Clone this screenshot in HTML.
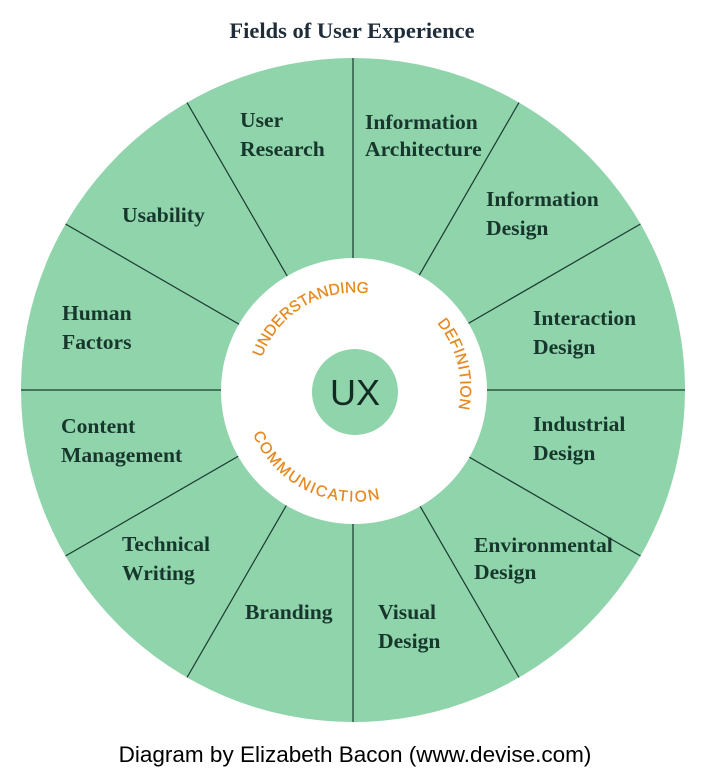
<!DOCTYPE html>
<html><head><meta charset="utf-8"><style>
html,body{margin:0;padding:0;background:#fff;width:704px;height:775px;overflow:hidden}
svg{display:block}
.l{font-family:"Liberation Serif",serif;font-weight:bold;font-size:21.6px;fill:#17372d}
.o{font-family:"Liberation Sans",sans-serif;font-size:15.5px;fill:#e5881e;letter-spacing:0.4px;stroke:#e5881e;stroke-width:0.3}
</style></head><body>
<svg width="704" height="775" viewBox="0 0 704 775" xmlns="http://www.w3.org/2000/svg">
<defs>
<path id="pu" d="M 261.9 357.5 A 98 98 0 0 1 380 296"/>
<path id="pd" d="M 437 323 A 102 102 0 0 1 454 424"/>
<path id="pc" d="M 253 434 A 110 110 0 0 0 420 480"/>
</defs>
<text x="352" y="38" text-anchor="middle" style="font-family:'Liberation Serif',serif;font-weight:bold;font-size:22.5px;fill:#1f2d3a">Fields of User Experience</text>
<circle cx="353" cy="390" r="332" fill="#8fd4aa"/>
<g stroke="#1a3a30" stroke-width="1.2">
<line x1="353" y1="58" x2="353" y2="722"/>
<line x1="21" y1="390" x2="685" y2="390"/>
<line x1="187" y1="102.5" x2="519" y2="677.5"/>
<line x1="519" y1="102.5" x2="187" y2="677.5"/>
<line x1="65.5" y1="224" x2="640.5" y2="556"/>
<line x1="640.5" y1="224" x2="65.5" y2="556"/>
</g>
<circle cx="354" cy="391" r="133" fill="#fff"/>
<circle cx="355" cy="392" r="43" fill="#8fd4aa"/>
<text x="355" y="405" text-anchor="middle" style="font-family:'Liberation Sans',sans-serif;font-size:36px;fill:#142a24">UX</text>
<text class="o" style="letter-spacing:0"><textPath href="#pu">UNDERSTANDING</textPath></text>
<text class="o"><textPath href="#pd">DEFINITION</textPath></text>
<text class="o" style="letter-spacing:1.8px"><textPath href="#pc">COMMUNICATION</textPath></text>
<g class="l">
<text x="240" y="127">User</text><text x="240" y="156">Research</text>
<text x="365" y="129">Information</text><text x="365" y="156">Architecture</text>
<text x="122" y="222">Usability</text>
<text x="486" y="206">Information</text><text x="486" y="235">Design</text>
<text x="62" y="320">Human</text><text x="62" y="349">Factors</text>
<text x="533" y="325">Interaction</text><text x="533" y="354">Design</text>
<text x="61" y="433">Content</text><text x="61" y="462">Management</text>
<text x="533" y="431">Industrial</text><text x="533" y="460">Design</text>
<text x="122" y="551">Technical</text><text x="122" y="580">Writing</text>
<text x="474" y="552">Environmental</text><text x="474" y="579">Design</text>
<text x="245" y="619">Branding</text>
<text x="378" y="619">Visual</text><text x="378" y="648">Design</text>
</g>
<text x="355" y="762" text-anchor="middle" style="font-family:'Liberation Sans',sans-serif;font-size:22.5px;fill:#000">Diagram by Elizabeth Bacon (www.devise.com)</text>
</svg>
</body></html>
